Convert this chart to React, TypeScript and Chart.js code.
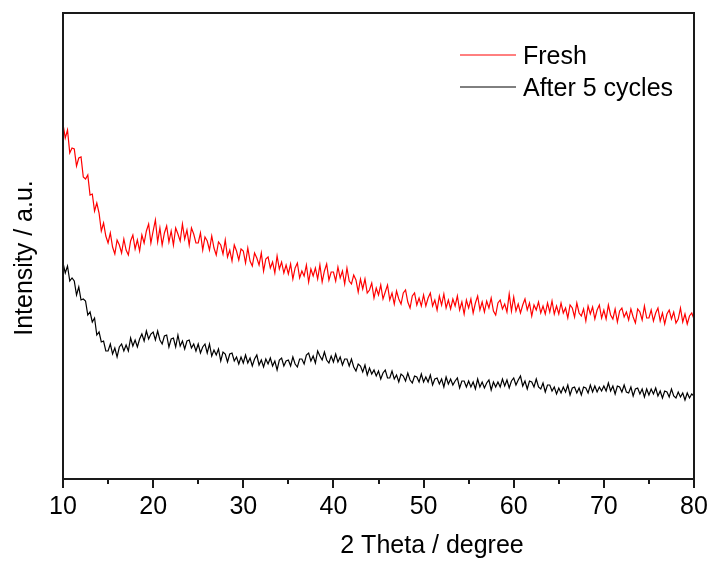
import { useEffect, useRef } from "react";
import { Chart, registerables } from "chart.js";

Chart.register(...registerables);

// Sampling grid of the scan (degrees 2θ)
const START_DEG = 10;
const STEP_DEG = 0.25;

const xTickValues = [10, 20, 30, 40, 50, 60, 70, 80];
const xMinorTickValues = [15, 25, 35, 45, 55, 65, 75];
const seriesLabels = ["Fresh", "After 5 cycles"];
const xAxisTitle = "2 Theta / degree";
const yAxisTitle = "Intensity / a.u.";

// Intensity (a.u.), one value per 0.25° from 10° to 80°
const freshIntensity = [
  354, 340, 348, 325, 330, 329, 312, 320, 321, 301, 299, 303, 283, 284, 267, 275, 265, 247, 255, 242,
  235, 245, 231, 224, 238, 233, 225, 239, 228, 223, 237, 243, 229, 238, 227, 243, 235, 247, 254, 235,
  247, 258, 236, 250, 233, 245, 252, 236, 247, 233, 250, 244, 237, 254, 239, 248, 233, 250, 244, 235,
  235, 245, 228, 241, 237, 228, 242, 230, 223, 236, 233, 224, 238, 221, 228, 217, 233, 227, 218, 229,
  227, 215, 230, 217, 212, 225, 220, 213, 225, 207, 219, 221, 210, 216, 205, 222, 209, 216, 205, 213,
  204, 214, 199, 210, 215, 200, 207, 202, 213, 196, 209, 202, 210, 199, 213, 196, 207, 214, 198, 206,
  206, 197, 211, 200, 207, 194, 210, 197, 194, 203, 198, 186, 199, 189, 199, 185, 188, 195, 180, 190,
  183, 193, 179, 186, 193, 178, 185, 174, 187, 179, 174, 185, 188, 176, 170, 182, 185, 173, 180, 172,
  183, 172, 180, 185, 172, 178, 168, 182, 173, 184, 170, 178, 169, 179, 172, 182, 168, 176, 164, 178,
  170, 179, 165, 175, 182, 168, 176, 166, 177, 170, 180, 167, 163, 175, 178, 169, 174, 166, 184, 167,
  181, 167, 174, 165, 173, 179, 168, 175, 162, 173, 168, 176, 165, 172, 164, 175, 166, 177, 164, 172,
  164, 175, 165, 170, 160, 173, 170, 161, 175, 165, 162, 169, 157, 172, 164, 171, 159, 168, 173, 160,
  168, 159, 173, 163, 159, 169, 156, 167, 170, 161, 166, 158, 169, 161, 155, 169, 166, 158, 172, 160,
  160, 168, 157, 165, 170, 157, 165, 154, 164, 168, 159, 166, 155, 159, 170, 156, 164, 154, 162, 165,
  159,
];

const cycledIntensity = [
  215, 205, 212, 197, 200, 197, 183, 191, 178, 179, 177, 163, 166, 156, 160, 143, 146, 136, 137, 127,
  127, 134, 124, 130, 121, 131, 134, 127, 133, 127, 140, 132, 138, 131, 139, 144, 137, 147, 139, 144,
  146, 138, 147, 138, 134, 142, 143, 131, 139, 140, 131, 143, 132, 137, 129, 137, 138, 130, 134, 127,
  134, 125, 131, 134, 125, 134, 122, 128, 123, 129, 117, 126, 124, 116, 124, 125, 117, 121, 114, 121,
  115, 123, 115, 120, 112, 119, 123, 113, 118, 111, 119, 114, 120, 112, 117, 108, 118, 120, 112, 117,
  118, 112, 121, 114, 111, 119, 119, 114, 123, 125, 117, 122, 115, 127, 122, 118, 126, 118, 115, 122,
  116, 124, 116, 121, 113, 119, 119, 112, 119, 111, 107, 114, 112, 106, 113, 103, 110, 104, 108, 102,
  107, 99, 105, 108, 100, 100, 107, 99, 103, 96, 104, 102, 97, 105, 98, 95, 102, 101, 96, 104,
  96, 101, 96, 103, 93, 99, 100, 94, 99, 91, 101, 94, 99, 93, 97, 100, 90, 97, 97, 91,
  97, 91, 96, 89, 99, 91, 96, 90, 95, 98, 88, 96, 91, 96, 91, 99, 92, 98, 90, 97,
  100, 93, 98, 102, 92, 97, 89, 97, 96, 91, 99, 91, 89, 95, 86, 93, 93, 87, 91, 84,
  90, 85, 91, 86, 93, 83, 90, 91, 85, 90, 83, 91, 90, 85, 93, 86, 92, 86, 91, 87,
  92, 87, 95, 87, 92, 84, 92, 91, 86, 93, 86, 85, 91, 82, 89, 90, 84, 89, 81, 89,
  83, 89, 84, 90, 82, 87, 80, 87, 86, 81, 89, 82, 80, 86, 81, 85, 78, 85, 80, 84,
  82,
];

const FONT = '"Liberation Sans", Arial, Helvetica, sans-serif';

const toPoints = (vals: number[]) =>
  vals.map((v, i) => ({ x: START_DEG + i * STEP_DEG, y: v }));

const decorPlugin = {
  id: "decor",
  afterDraw(chart: any) {
    const { ctx, chartArea: a, scales } = chart;
    const x = scales.x;
    ctx.save();
    // frame
    ctx.strokeStyle = "#1a1a1a";
    ctx.lineWidth = 2;
    ctx.strokeRect(a.left, a.top + 1, a.right - a.left, a.bottom - a.top);
    // bottom axis ticks (outward)
    const drawTick = (v: number, len: number) => {
      const px = Math.round(x.getPixelForValue(v));
      ctx.beginPath();
      ctx.moveTo(px, a.bottom + 1);
      ctx.lineTo(px, a.bottom + 1 + len);
      ctx.stroke();
    };
    xTickValues.forEach((v) => drawTick(v, 9));
    xMinorTickValues.forEach((v) => drawTick(v, 5));

    // axis titles
    ctx.fillStyle = "#000";
    ctx.font = `25px ${FONT}`;
    ctx.textAlign = "center";
    ctx.textBaseline = "alphabetic";
    ctx.fillText(xAxisTitle, 432, 553);
    ctx.save();
    ctx.translate(32, 258);
    ctx.rotate(-Math.PI / 2);
    ctx.fillText(yAxisTitle, 0, 0);
    ctx.restore();

    // legend
    ctx.textAlign = "left";
    chart.data.datasets.forEach((ds: any, i: number) => {
      const ly = 55 + i * 32;
      ctx.strokeStyle = ds.borderColor;
      ctx.lineWidth = 1;
      ctx.beginPath();
      ctx.moveTo(460, ly);
      ctx.lineTo(516, ly);
      ctx.stroke();
      ctx.fillStyle = "#000";
      ctx.fillText(ds.label, 523, ly + 9);
    });
    ctx.restore();
  },
};

export default function App() {
  const ref = useRef<HTMLCanvasElement>(null);

  useEffect(() => {
    document.body.style.margin = "0";
    const chart = new Chart(ref.current as HTMLCanvasElement, {
      type: "line",
      data: {
        datasets: [
          {
            label: seriesLabels[0],
            data: toPoints(freshIntensity),
            borderColor: "#ff0000",
            borderWidth: 1.2,
            pointRadius: 0,
            tension: 0,
            fill: false,
          },
          {
            label: seriesLabels[1],
            data: toPoints(cycledIntensity),
            borderColor: "#000000",
            borderWidth: 1.2,
            pointRadius: 0,
            tension: 0,
            fill: false,
          },
        ],
      },
      options: {
        animation: false,
        responsive: false,
        devicePixelRatio: 1,
        layout: { padding: { left: 63, top: 12, right: 19, bottom: 0 } },
        plugins: {
          legend: { display: false },
          tooltip: { enabled: false },
        },
        scales: {
          x: {
            type: "linear",
            min: 10,
            max: 80,
            afterBuildTicks: (s: any) => {
              s.ticks = xTickValues.map((v) => ({ value: v }));
            },
            ticks: {
              color: "#000",
              font: { family: FONT, size: 25 },
              padding: 14,
              maxRotation: 0,
              autoSkip: false,
            },
            grid: { display: false, drawTicks: false },
            border: { display: false },
            afterFit: (s: any) => {
              s.height = 83;
              s.paddingLeft = 0;
              s.paddingRight = 0;
            },
          },
          y: {
            display: false,
            min: 0,
            max: 466,
          },
        },
      },
      plugins: [decorPlugin],
    } as any);
    return () => chart.destroy();
  }, []);

  return (
    <div style={{ position: "absolute", left: 0, top: 0, width: 713, height: 561, background: "#fff" }}>
      <canvas ref={ref} width={713} height={561} style={{ display: "block", width: 713, height: 561 }} />
    </div>
  );
}
